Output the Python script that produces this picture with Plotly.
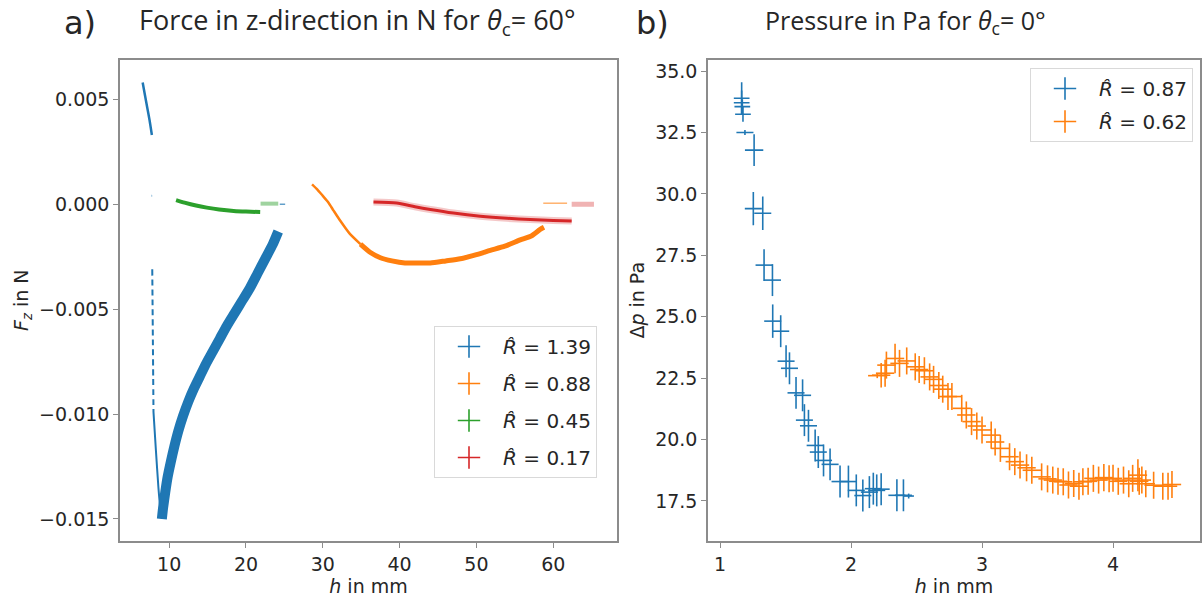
import plotly.graph_objects as go

# ---------------- panel a) data: F_z in N vs h in mm ----------------
blue_top_h = [6.55, 6.85, 7.15, 7.45, 7.75]
blue_top_fz = [0.0058, 0.0052, 0.0046, 0.0040, 0.0033]
blue_dot_h = [7.72, 7.78]
blue_dot_fz = [0.0004, 0.0004]
blue_dash_h = [7.80, 7.84, 7.88, 7.92, 7.96]
blue_dash_fz = [-0.0031, -0.0048, -0.0065, -0.0082, -0.0099]
blue_down_h = [7.96, 8.27, 8.60, 8.85, 9.05]
blue_down_fz = [-0.0099, -0.0117, -0.0135, -0.0145, -0.0150]
blue_up_h = [9.05, 9.2, 9.5, 9.8, 10.2, 10.7, 11.2, 11.8, 12.5, 13.2, 14.0, 14.8,
             15.7, 16.6, 17.5, 18.5, 19.5, 20.5, 21.5, 22.5, 23.5, 24.2]
blue_up_fz = [-0.0150, -0.0145, -0.0137, -0.0130, -0.0123, -0.0115, -0.0108,
              -0.0101, -0.0094, -0.0088, -0.0082, -0.0076, -0.0070, -0.0064,
              -0.0058, -0.0052, -0.0046, -0.0040, -0.0033, -0.0026, -0.0019, -0.0013]
blue_tail_h = [24.4, 25.1]
blue_tail_fz = [0.0, 0.0]

green_h = [10.9, 12.0, 13.5, 14.9, 16.5, 18.4, 20.0, 21.85]
green_fz = [0.00020, 0.00008, -0.00006, -0.00016, -0.00025, -0.00032, -0.00035, -0.00037]
green_tail_h = [21.9, 24.2]
green_tail_fz = [0.00003, 0.00003]

orange_start_h = [28.6, 29.3, 30.0, 30.7, 31.4, 32.3, 33.5, 34.9]
orange_start_fz = [0.00095, 0.0007, 0.0004, 0.0001, -0.0003, -0.0008, -0.0014, -0.0019]
orange_h = [34.9, 36.2, 37.5, 39.0, 40.7, 42.5, 44.0, 46.0, 47.9, 50.0, 51.8, 53.7,
            55.7, 57.2, 58.3, 58.8]
orange_fz = [-0.0019, -0.0023, -0.00255, -0.0027, -0.0028, -0.0028, -0.0028, -0.0027,
             -0.0026, -0.0024, -0.0022, -0.0020, -0.0017, -0.0015, -0.0012, -0.0011]
orange_tail_h = [58.7, 61.8]
orange_tail_fz = [0.00005, 0.00005]

red_h = [36.6, 39.6, 42.0, 44.0, 47.0, 50.5, 54.0, 57.0, 60.0, 62.4]
red_fz = [0.00011, 0.00006, -0.00012, -0.00025, -0.00042, -0.00057, -0.00067,
          -0.00073, -0.00077, -0.0008]
red_tail_h = [62.4, 65.3]
red_tail_fz = [0.0, 0.0]

labels_a = ["1.39", "0.88", "0.45", "0.17"]

# ---------------- panel b) data: Δp in Pa vs h in mm ----------------
pb_h = [1.165, 1.165, 1.17, 1.175, 1.19, 1.26, 1.254, 1.326, 1.336, 1.40, 1.402,
        1.463, 1.504, 1.53, 1.58, 1.63, 1.644, 1.675, 1.726, 1.75, 1.79, 1.84,
        1.916, 1.98, 2.04, 2.09, 2.14, 2.17, 2.196, 2.23, 2.35, 2.40, 2.44]
pb_dp = [33.89, 33.71, 33.55, 33.24, 32.5, 31.78, 29.40, 29.21, 27.10, 26.49, 24.82,
         24.41, 23.19, 22.9, 21.9, 21.8, 20.79, 20.56, 19.76, 19.49, 19.15, 18.99,
         18.29, 18.29, 17.93, 17.72, 17.86, 18.0, 17.93, 17.98, 17.73, 17.73, 17.7]
pb_herr = [0.06, 0.06, 0.06, 0.06, 0.065, 0.07, 0.065, 0.065, 0.065, 0.065, 0.065,
           0.065, 0.065, 0.065, 0.065, 0.065, 0.065, 0.065, 0.065, 0.065, 0.065, 0.065,
           0.065, 0.065, 0.065, 0.065, 0.065, 0.065, 0.065, 0.065, 0.065, 0.065, 0.04]
pb_dperr = [0.65, 0.5, 0.3, 0.3, 0.1, 0.65, 0.68, 0.68, 0.65, 0.65, 0.68,
            0.65, 0.65, 0.65, 0.65, 0.65, 0.65, 0.65, 0.65, 0.65, 0.65, 0.65,
            0.65, 0.65, 0.65, 0.65, 0.65, 0.65, 0.65, 0.65, 0.65, 0.65, 0.1]

po_h = [2.20, 2.23, 2.26, 2.27, 2.336, 2.37, 2.425, 2.49, 2.52, 2.56, 2.60, 2.63,
        2.67, 2.70, 2.74, 2.77, 2.845, 2.88, 2.92, 2.96, 3.00, 3.07, 3.10, 3.14,
        3.21, 3.25, 3.29, 3.34, 3.38, 3.455, 3.50, 3.54, 3.58, 3.62, 3.66, 3.70,
        3.74, 3.77, 3.81, 3.85, 3.89, 3.93, 3.97, 4.00, 4.04, 4.08, 4.12, 4.15,
        4.19, 4.20, 4.22, 4.25, 4.31, 4.38, 4.42, 4.45]
po_dp = [22.6, 22.62, 22.7, 23.03, 23.3, 23.1, 23.2, 22.96, 22.85, 22.8, 22.55, 22.45,
         22.2, 22.05, 21.75, 21.75, 21.27, 21.0, 20.73, 20.55, 20.39, 20.18, 19.9, 19.64,
         19.3, 19.1, 18.96, 18.85, 18.75, 18.48, 18.4, 18.35, 18.3, 18.28, 18.15, 18.21,
         18.1, 18.28, 18.3, 18.42, 18.35, 18.45, 18.4, 18.42, 18.3, 18.35, 18.2, 18.42,
         18.55, 18.3, 18.35, 18.2, 18.14, 18.1, 18.1, 18.17]
po_herr = [0.07] * len(po_h)
po_dperr = [0.1, 0.5, 0.55, 0.55, 0.6, 0.55, 0.55, 0.55, 0.55, 0.55, 0.55, 0.55,
            0.55, 0.55, 0.55, 0.55, 0.55, 0.55, 0.55, 0.55, 0.55, 0.55, 0.55, 0.55,
            0.55, 0.55, 0.55, 0.55, 0.55, 0.55, 0.55, 0.55, 0.55, 0.55, 0.55, 0.55,
            0.55, 0.55, 0.55, 0.55, 0.55, 0.55, 0.55, 0.55, 0.55, 0.55, 0.55, 0.55,
            0.65, 0.55, 0.55, 0.55, 0.55, 0.55, 0.55, 0.55]
labels_b = ["0.87", "0.62"]

BLUE, ORANGE, GREEN, RED = "#1f77b4", "#ff7f0e", "#2ca02c", "#d62728"
FONT = "DejaVu Sans"
TFONT = "Open Sans"
TXT = "#262626"
SPINE = "#8c8c8c"

fig = go.Figure()


def line(x, y, color, width, dash="solid", opacity=1.0, xa="x", ya="y"):
    fig.add_trace(go.Scatter(x=x, y=y, mode="lines", xaxis=xa, yaxis=ya,
                             line=dict(color=color, width=width, dash=dash,
                                       shape="spline", smoothing=0.6),
                             opacity=opacity, showlegend=False, hoverinfo="skip"))


# panel a
line(blue_top_h, blue_top_fz, BLUE, 2.5)
line(blue_dot_h, blue_dot_fz, BLUE, 2)
line(blue_dash_h, blue_dash_fz, BLUE, 2, dash="6px,4px")
line(blue_down_h, blue_down_fz, BLUE, 2)
line(blue_up_h, blue_up_fz, BLUE, 10)
line(blue_tail_h, blue_tail_fz, BLUE, 1.5, opacity=0.7)
line(green_h, green_fz, GREEN, 4)
line(green_tail_h, green_tail_fz, GREEN, 4, opacity=0.45)
line(orange_start_h, orange_start_fz, ORANGE, 2.5)
line(orange_h, orange_fz, ORANGE, 5)
line(orange_tail_h, orange_tail_fz, ORANGE, 1.5, opacity=0.6)
line(red_h, red_fz, RED, 7, opacity=0.25)
line(red_h, red_fz, RED, 3)
line(red_tail_h, red_tail_fz, RED, 5, opacity=0.35)

# panel b
for h, dp, he, de, c in [(pb_h, pb_dp, pb_herr, pb_dperr, BLUE),
                         (po_h, po_dp, po_herr, po_dperr, ORANGE)]:
    fig.add_trace(go.Scatter(
        x=h, y=dp, mode="markers", xaxis="x2", yaxis="y2",
        marker=dict(size=1, color=c),
        error_x=dict(type="data", array=he, width=0, thickness=1.6, color=c),
        error_y=dict(type="data", array=de, width=0, thickness=1.6, color=c),
        showlegend=False, hoverinfo="skip"))

# legend entries (errorbar "+" glyphs)
for i, (lab, c) in enumerate(zip(labels_a, [BLUE, ORANGE, GREEN, RED])):
    fig.add_trace(go.Scatter(x=[None], y=[None], mode="markers", xaxis="x", yaxis="y",
                             name="<i>R̂</i> = " + lab, legend="legend",
                             legendgroup="a%d" % i,
                             marker=dict(symbol="cross-thin", size=18,
                                         line=dict(width=1.6, color=c))))
for i, (lab, c) in enumerate(zip(labels_b, [BLUE, ORANGE])):
    fig.add_trace(go.Scatter(x=[None], y=[None], mode="markers", xaxis="x2", yaxis="y2",
                             name="<i>R̂</i> = " + lab, legend="legend2",
                             legendgroup="b%d" % i,
                             marker=dict(symbol="cross-thin", size=18,
                                         line=dict(width=1.6, color=c))))

W, H = 1202, 597
ydom = [1 - 541 / H, 1 - 59.5 / H]
axis_common = dict(showline=True, mirror=True, linecolor=SPINE, linewidth=1.5,
                   ticks="outside", ticklen=5, tickcolor=SPINE, tickwidth=1.2,
                   showgrid=False, zeroline=False,
                   tickfont=dict(family=FONT, size=19, color=TXT))
title_font = dict(family=FONT, size=19, color=TXT)

fig.update_layout(
    width=W, height=H, margin=dict(l=0, r=0, t=0, b=0),
    paper_bgcolor="white", plot_bgcolor="white",
    xaxis=dict(domain=[120 / W, 617 / W], range=[3.6, 68.3], anchor="y",
               tickvals=[10, 20, 30, 40, 50, 60],
               title=dict(text="<i>h</i> in mm", standoff=3, font=title_font),
               **axis_common),
    yaxis=dict(domain=ydom, range=[-0.01605, 0.0069], anchor="x",
               tickvals=[0.005, 0.0, -0.005, -0.010, -0.015],
               ticktext=["0.005", "0.000", "−0.005", "−0.010", "−0.015"],
               title=dict(text="<i>F</i><sub><i>z</i></sub> in N", standoff=5,
                          font=title_font),
               **axis_common),
    xaxis2=dict(domain=[708 / W, 1200 / W], range=[0.908, 4.664], anchor="y2",
                tickvals=[1, 2, 3, 4],
                title=dict(text="<i>h</i> in mm", standoff=3, font=title_font),
                **axis_common),
    yaxis2=dict(domain=ydom, range=[15.87, 35.47], anchor="x2",
                tickvals=[17.5, 20.0, 22.5, 25.0, 27.5, 30.0, 32.5, 35.0],
                ticktext=["17.5", "20.0", "22.5", "25.0", "27.5", "30.0", "32.5", "35.0"],
                title=dict(text="Δ<i>p</i> in Pa", standoff=5, font=title_font),
                **axis_common),
    legend=dict(x=597 / W, y=1 - 326 / H, xanchor="right", yanchor="top",
                bgcolor="white", bordercolor="#d9d9d9", borderwidth=1,
                font=dict(family=FONT, size=20, color=TXT), itemwidth=58,
                tracegroupgap=8),
    legend2=dict(x=1193 / W, y=1 - 68 / H, xanchor="right", yanchor="top",
                 bgcolor="white", bordercolor="#d9d9d9", borderwidth=1,
                 font=dict(family=FONT, size=20, color=TXT), itemwidth=58,
                 tracegroupgap=4),
    annotations=[
        dict(text="a)", x=80 / W, y=1 - 23 / H, xref="paper", yref="paper",
             xanchor="center", yanchor="middle",
             showarrow=False, font=dict(family=FONT, size=32, color=TXT)),
        dict(text="Force in z-direction in N for <i>θ</i><sub>c</sub>= 60°",
             x=357 / W, y=1 - 22 / H, xref="paper", yref="paper",
             xanchor="center", yanchor="middle", showarrow=False,
             font=dict(family=TFONT, size=27, color=TXT)),
        dict(text="b)", x=652 / W, y=1 - 23 / H, xref="paper", yref="paper",
             xanchor="center", yanchor="middle",
             showarrow=False, font=dict(family=FONT, size=32, color=TXT)),
        dict(text="Pressure in Pa for <i>θ</i><sub>c</sub>= 0°",
             x=905 / W, y=1 - 22 / H, xref="paper", yref="paper",
             xanchor="center", yanchor="middle", showarrow=False,
             font=dict(family=TFONT, size=25, color=TXT)),
    ],
)

fig.write_html("out.html")
